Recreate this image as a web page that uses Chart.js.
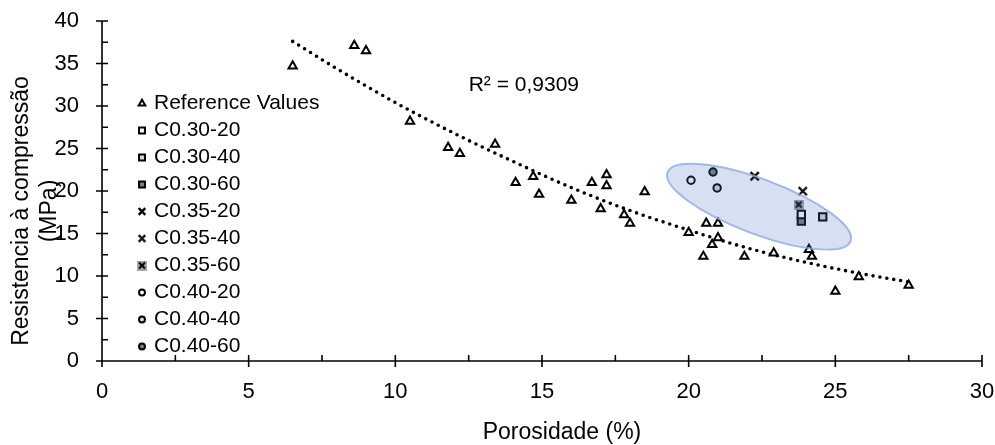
<!DOCTYPE html>
<html>
<head>
<meta charset="utf-8">
<title>Porosidade x Resistencia</title>
<script src="https://cdn.jsdelivr.net/npm/chart.js@4.4.1/dist/chart.umd.min.js"></script>
<style>
  html, body { margin: 0; padding: 0; background: #fff; }
  #wrap { width: 995px; height: 445px; position: relative; }
</style>
</head>
<body>
<div id="wrap"><canvas id="chart"></canvas></div>
<script>
// ---------------------------------------------------------------------------
// Data
// ---------------------------------------------------------------------------
const refLabel = "Reference Values";
const refX = [6.5, 8.6, 9.0, 10.5, 11.8, 12.2, 13.4, 14.1, 14.7, 14.9, 16.0, 16.7, 17.2, 17.2, 17.0, 17.8,
  18.0, 18.5, 20.0, 20.6, 21.0, 21.0, 20.8, 20.5, 21.9, 22.9, 24.1, 24.2, 25.8, 25.0, 27.5];
const refY = [34.7, 37.1, 36.5, 28.2, 25.1, 24.4, 25.5, 21.0, 21.7, 19.6, 18.9, 21.0, 21.9, 20.6, 17.9, 17.2,
  16.2, 19.9, 15.1, 16.2, 16.2, 14.5, 13.7, 12.3, 12.3, 12.7, 13.1, 12.3, 9.9, 8.2, 8.9];

const mixLabels = ["C0.30-20", "C0.30-40", "C0.30-60", "C0.35-20", "C0.35-40", "C0.35-60", "C0.40-20", "C0.40-40", "C0.40-60"];
const mixX = [23.84, 24.57, 23.84, 22.25, 23.89, 23.75, 20.08, 20.97, 20.83];
const mixY = [17.24, 16.96, 16.45, 21.74, 19.98, 18.41, 21.27, 20.36, 22.24];

// dotted trend line
const trendX = [6.5, 8, 10, 12, 14, 16, 18, 20, 22, 24, 26, 27.5];
const trendY = [37.6, 34.4, 30.4, 26.8, 23.5, 20.4, 17.7, 15.4, 13.3, 11.6, 10.2, 9.3];
const r2Text = "R\u00B2 = 0,9309";
const r2At = [12.5, 32.4];

// highlighted group (ellipse): ends of the long axis, in data units
const ellipseEnds = [[19.28, 22.19], [25.52, 14.11]];
const ellipseRatio = 0.28; // short / long half-axis

const xTicks = [0, 5, 10, 15, 20, 25, 30];
const yTicks = [0, 5, 10, 15, 20, 25, 30, 35, 40];
const xTitle = "Porosidade (%)";
const yTitle = ["Resistencia \u00E0 compress\u00E3o", "(MPa)"];

// ---------------------------------------------------------------------------
// Styles
// ---------------------------------------------------------------------------
const FONT = "'Liberation Sans', Arial, sans-serif";
const LIGHT = "#d9d9d9";
const DARK = "#808080";

// grey square with an x on top, for C0.35-60
function boxCross() {
  const c = document.createElement("canvas");
  c.width = 10; c.height = 10;
  const g = c.getContext("2d");
  g.fillStyle = "#a6a6a6";
  g.fillRect(0, 0, 10, 10);
  g.strokeStyle = "#000";
  g.lineWidth = 2;
  g.beginPath();
  g.moveTo(2, 2); g.lineTo(8, 8);
  g.moveTo(8, 2); g.lineTo(2, 8);
  g.stroke();
  return c;
}

const mixStyles = [
  { pointStyle: "rect", radius: 5.2, bg: "#fff", border: "#000" },
  { pointStyle: "rect", radius: 5.2, bg: LIGHT, border: "#000" },
  { pointStyle: "rect", radius: 5.2, bg: DARK, border: "#000" },
  { pointStyle: "crossRot", radius: 5.8, bg: "#000", border: "#000" },
  { pointStyle: "crossRot", radius: 5.8, bg: "#1a1a1a", border: "#1a1a1a" },
  { pointStyle: boxCross(), radius: 5, bg: "#a6a6a6", border: "#000" },
  { pointStyle: "circle", radius: 3.7, bg: "#fff", border: "#000" },
  { pointStyle: "circle", radius: 3.7, bg: LIGHT, border: "#000" },
  { pointStyle: "circle", radius: 3.7, bg: DARK, border: "#000" },
];

// ---------------------------------------------------------------------------
// Datasets
// ---------------------------------------------------------------------------
const datasets = [];
datasets.push({
  label: refLabel,
  data: refX.map((x, i) => ({ x, y: refY[i] })),
  pointStyle: "triangle",
  pointRadius: 4.8,
  pointBackgroundColor: "#fff",
  pointBorderColor: "#000",
  pointBorderWidth: 2,
  showLine: false,
});
mixLabels.forEach((label, i) => {
  const s = mixStyles[i];
  datasets.push({
    label,
    data: [{ x: mixX[i], y: mixY[i] }],
    pointStyle: s.pointStyle,
    pointRadius: s.radius,
    pointBackgroundColor: s.bg,
    pointBorderColor: s.border,
    pointBorderWidth: s.pointStyle === "crossRot" ? 2.4 : 2,
    showLine: false,
  });
});
datasets.push({
  label: "trend",
  data: trendX.map((x, i) => ({ x, y: trendY[i] })),
  showLine: true,
  pointRadius: 0,
  borderColor: "#000",
  borderWidth: 3.6,
  borderDash: [0, 7],
  borderCapStyle: "round",
  cubicInterpolationMode: "monotone",
  isTrend: true,
});

// ---------------------------------------------------------------------------
// Plugins
// ---------------------------------------------------------------------------
// axis lines with crossing major ticks and inner minor ticks
const axesPlugin = {
  id: "axes",
  beforeDatasetsDraw(chart) {
    const { ctx, chartArea: a, scales: { x, y } } = chart;
    ctx.save();
    ctx.strokeStyle = "#000";
    ctx.lineWidth = 1.6;
    ctx.beginPath();
    ctx.moveTo(a.left, a.top); ctx.lineTo(a.left, a.bottom); ctx.lineTo(a.right, a.bottom);
    xTicks.forEach((v, i) => {
      const px = x.getPixelForValue(v);
      ctx.moveTo(px, a.bottom - 6); ctx.lineTo(px, a.bottom + 6);
      if (i < xTicks.length - 1) {
        const m = x.getPixelForValue((v + xTicks[i + 1]) / 2);
        ctx.moveTo(m, a.bottom - 6); ctx.lineTo(m, a.bottom);
      }
    });
    yTicks.forEach((v, i) => {
      const py = y.getPixelForValue(v);
      ctx.moveTo(a.left - 6, py); ctx.lineTo(a.left + 6, py);
      if (i < yTicks.length - 1) {
        const m = y.getPixelForValue((v + yTicks[i + 1]) / 2);
        ctx.moveTo(a.left, m); ctx.lineTo(a.left + 6, m);
      }
    });
    ctx.stroke();
    ctx.restore();
  },
};

// translucent ellipse over the tested mixes + R² text
const overlayPlugin = {
  id: "overlay",
  afterDatasetsDraw(chart) {
    const { ctx, scales: { x, y } } = chart;
    const p1 = [x.getPixelForValue(ellipseEnds[0][0]), y.getPixelForValue(ellipseEnds[0][1])];
    const p2 = [x.getPixelForValue(ellipseEnds[1][0]), y.getPixelForValue(ellipseEnds[1][1])];
    const cx = (p1[0] + p2[0]) / 2, cy = (p1[1] + p2[1]) / 2;
    const rx = Math.hypot(p2[0] - p1[0], p2[1] - p1[1]) / 2;
    const rot = Math.atan2(p2[1] - p1[1], p2[0] - p1[0]);
    ctx.save();
    ctx.beginPath();
    ctx.ellipse(cx, cy, rx, rx * ellipseRatio, rot, 0, Math.PI * 2);
    ctx.fillStyle = "rgba(68,114,196,0.22)";
    ctx.fill();
    ctx.strokeStyle = "rgba(143,170,220,0.8)";
    ctx.lineWidth = 2;
    ctx.stroke();

    ctx.fillStyle = "#000";
    ctx.font = "21px " + FONT;
    ctx.textAlign = "left";
    ctx.textBaseline = "middle";
    ctx.fillText(r2Text, x.getPixelForValue(r2At[0]), y.getPixelForValue(r2At[1]));
    ctx.restore();
  },
};

// legend inside the plot + axis titles
const legendPlugin = {
  id: "innerLegend",
  afterDraw(chart) {
    const { ctx, chartArea: a } = chart;
    const draw = Chart.helpers && Chart.helpers.drawPoint;
    ctx.save();
    ctx.font = "21px " + FONT;
    ctx.textBaseline = "middle";
    ctx.textAlign = "left";
    let row = 0;
    chart.data.datasets.forEach((ds) => {
      if (ds.isTrend) return;
      const yy = 103.5 + row * 27;
      const mx = 142;
      ctx.save();
      ctx.fillStyle = ds.pointBackgroundColor;
      ctx.strokeStyle = ds.pointBorderColor;
      ctx.lineWidth = ds.pointBorderWidth;
      if (draw) {
        draw(ctx, { pointStyle: ds.pointStyle, radius: ds.pointRadius * 0.8, borderWidth: ds.pointBorderWidth, rotation: 0 }, mx, yy);
      }
      ctx.restore();
      ctx.fillStyle = "#000";
      ctx.fillText(ds.label, 154, yy);
      row++;
    });

    // x title
    ctx.font = "23px " + FONT;
    ctx.textAlign = "center";
    ctx.fillText(xTitle, (a.left + a.right) / 2 + 20, a.bottom + 72);

    // y title (two lines, rotated)
    const cy = (a.top + a.bottom) / 2 + 20;
    [a.left - 80, a.left - 52].forEach((lx, i) => {
      ctx.save();
      ctx.translate(lx, cy);
      ctx.rotate(-Math.PI / 2);
      ctx.fillText(yTitle[i], 0, 0);
      ctx.restore();
    });
    ctx.restore();
  },
};

// ---------------------------------------------------------------------------
// Chart
// ---------------------------------------------------------------------------
Chart.defaults.font.family = FONT;
Chart.defaults.color = "#000";

new Chart(document.getElementById("chart"), {
  type: "scatter",
  data: { datasets },
  options: {
    responsive: true,
    maintainAspectRatio: false,
    animation: false,
    events: [],
    layout: { padding: { left: 0, top: 21, right: 13, bottom: 0 } },
    plugins: {
      legend: { display: false },
      tooltip: { enabled: false },
    },
    scales: {
      x: {
        type: "linear",
        min: 0,
        max: 30,
        grid: { display: false, drawTicks: false },
        border: { display: false },
        afterBuildTicks: (s) => { s.ticks = xTicks.map((v) => ({ value: v })); },
        ticks: { font: { size: 22 }, padding: 18, maxRotation: 0 },
        afterFit: (s) => { s.height = 84; s.paddingLeft = 0; s.paddingRight = 0; },
      },
      y: {
        type: "linear",
        min: 0,
        max: 40,
        grid: { display: false, drawTicks: false },
        border: { display: false },
        afterBuildTicks: (s) => { s.ticks = yTicks.map((v) => ({ value: v })); },
        ticks: { font: { size: 22 }, padding: 23 },
        afterFit: (s) => { s.width = 102; s.paddingTop = 0; s.paddingBottom = 0; },
      },
    },
  },
  plugins: [axesPlugin, overlayPlugin, legendPlugin],
});
</script>
</body>
</html>
